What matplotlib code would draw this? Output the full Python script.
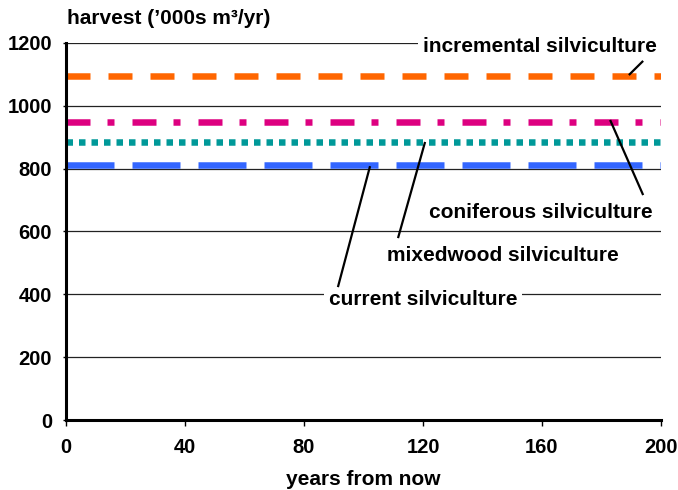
import matplotlib
matplotlib.use("Agg")
import matplotlib.pyplot as plt
import numpy as np

plt.rcParams['font.family'] = ['Liberation Sans', 'DejaVu Sans']
plt.rcParams['font.weight'] = 'bold'
plt.rcParams['lines.scale_dashes'] = False

years = [0, 200]
series_names = ["incremental silviculture", "coniferous silviculture",
                "mixedwood silviculture", "current silviculture"]
incremental = [1095, 1095]
coniferous = [948, 948]
mixedwood = [885, 885]
current = [812, 812]
x_ticks = [0, 40, 80, 120, 160, 200]
y_ticks = [0, 200, 400, 600, 800, 1000, 1200]

fig = plt.figure(figsize=(6.78, 4.9), dpi=100)
ax = fig.add_axes([66/678, 70/490, 595/678, 377/490])

px = 0.72  # points per pixel
lw = 6.5 * px
ax.plot(years, incremental, color='#ff6600', lw=lw, dashes=(24*px, 18*px), dash_capstyle='butt', zorder=3)
ax.plot(years, coniferous, color='#dd0080', lw=lw, dashes=(24*px, 17*px, 7*px, 18*px), dash_capstyle='butt', zorder=3)
ax.plot(years, mixedwood, color='#009999', lw=lw, dashes=(6.5*px, 6*px), dash_capstyle='butt', zorder=3)
ax.plot(years, current, color='#3366ff', lw=lw, dashes=(48*px, 18*px), dash_capstyle='butt', zorder=3)

ax.set_xlim(0, 200)
ax.set_ylim(0, 1200)
ax.set_xticks(x_ticks)
ax.set_yticks(y_ticks)
ax.set_xticklabels([str(v) for v in x_ticks])
ax.set_yticklabels([str(v) for v in y_ticks])
ax.tick_params(axis='both', labelsize=14.5, width=1, color='black')
ax.tick_params(axis='x', length=4, pad=9, direction='out')
ax.tick_params(axis='y', length=2, pad=8, direction='out')
for lab in ax.get_xticklabels() + ax.get_yticklabels():
    lab.set_fontweight('bold')

ax.grid(axis='y', color='#222222', lw=0.9, zorder=1)
ax.set_axisbelow(True)
for s in ['top', 'right']:
    ax.spines[s].set_visible(False)
for s in ['left', 'bottom']:
    ax.spines[s].set_linewidth(2.2)
    ax.spines[s].set_zorder(5)

ax.set_xlabel("years from now", fontsize=15, fontweight='bold', labelpad=9)
fig.text(67/678, 1 - 18/490, "harvest (\u2019000s m\u00b3/yr)", fontsize=15, fontweight='bold',
         ha='left', va='center')

label_pos = [(159.3, 1190), (159.7, 662), (146.9, 525), (120.0, 385)]
leader_start = [(189.2, 1098), (182.9, 955), (120.7, 885), (102.2, 808)]
leader_end = [(194.0, 1143), (194.0, 716), (111.6, 579), (91.4, 423)]

for name, (tx, ty), (x0, y0), (x1, y1) in zip(series_names, label_pos, leader_start, leader_end):
    ax.text(tx, ty, name, fontsize=15, fontweight='bold', ha='center', va='center',
            bbox=dict(boxstyle='square,pad=0.25', fc='white', ec='none'), zorder=4, clip_on=False)
    ax.plot([x0, x1], [y0, y1], color='black', lw=1.6, zorder=6, clip_on=False, solid_capstyle='butt')

fig.savefig("out.png", dpi=100)
